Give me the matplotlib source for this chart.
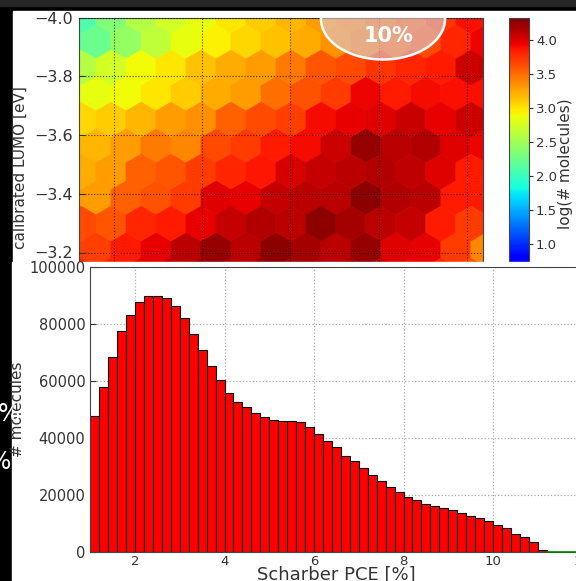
import numpy as np
import matplotlib
matplotlib.use("Agg")
import matplotlib.pyplot as plt
from matplotlib.patches import Rectangle, Ellipse

W, H = 576, 581

# bottom histogram: Scharber PCE in 0.2 % bins from 1 %
pce_bin_start = 1.0
pce_bin_width = 0.2
pce_counts = [47600, 57800, 68300, 77400, 83100, 87800, 89900, 89700, 89200, 86200,
              82000, 76400, 70800, 65200, 60200, 55800, 52500, 50800, 48800, 47400,
              46200, 45800, 45900, 45500, 43700, 41400, 38800, 36700, 33800, 31800,
              29500, 27000, 25000, 22800, 21200, 19200, 18100, 17000, 16000, 15400,
              14800, 13700, 12700, 11900, 10800, 9600, 8400, 6400, 5300, 3400, 800]
hist_xticks = [2, 4, 6, 8, 10, 12]
hist_yticks = [0, 20000, 40000, 60000, 80000, 100000]

# top hexbin: log(# molecules) per cell, rows top to bottom
# lattice A rows (j = 1..5), 15 cells each
lattice_a_rows = [
    [2.05, 2.25, 2.45, 2.65, 2.85, 2.95, 3.05, 3.15, 3.25, 3.35, 3.45, 3.55, 3.65, 3.80, 3.95],
    [2.85, 2.85, 2.90, 3.00, 3.10, 3.25, 3.30, 3.50, 3.62, 3.72, 3.95, 3.85, 3.92, 3.90, 3.90],
    [3.20, 3.20, 3.30, 3.45, 3.40, 3.65, 3.72, 3.85, 3.92, 4.05, 4.25, 4.12, 4.15, 4.00, 3.95],
    [3.30, 3.30, 3.55, 3.62, 3.72, 4.00, 3.97, 4.08, 4.12, 4.12, 4.28, 4.15, 4.12, 3.85, 3.85],
    [3.70, 3.70, 3.85, 3.97, 4.12, 4.25, 4.12, 4.28, 4.20, 4.12, 4.25, 4.00, 3.97, 3.72, 3.40],
]
# lattice B rows (j = 0..5), 14 cells each
lattice_b_rows = [
    [2.10, 2.35, 2.60, 2.75, 2.85, 3.00, 3.10, 3.20, 3.30, 3.40, 3.50, 3.60, 3.75, 3.90],
    [2.60, 2.75, 2.90, 3.00, 3.15, 3.25, 3.30, 3.45, 3.60, 3.65, 3.75, 3.80, 3.85, 4.05],
    [3.05, 3.10, 3.20, 3.30, 3.35, 3.55, 3.65, 3.70, 3.92, 3.97, 4.00, 4.07, 3.97, 4.05],
    [3.25, 3.30, 3.55, 3.60, 3.72, 3.80, 3.87, 4.03, 4.08, 4.12, 4.15, 4.10, 4.00, 3.85],
    [3.65, 3.60, 3.80, 3.85, 3.97, 4.08, 4.15, 4.12, 4.27, 4.20, 4.12, 4.08, 3.85, 3.72],
    [3.80, 3.85, 4.00, 4.10, 4.20, 4.15, 4.25, 4.20, 4.15, 4.20, 4.10, 3.95, 3.80, 3.60],
]
lumo_ticks = [-4.0, -3.8, -3.6, -3.4, -3.2]
cbar_ticks = [1.0, 1.5, 2.0, 2.5, 3.0, 3.5, 4.0]

hex_extent = (0.92, 10.43, -4.095, -3.033)
hex_grid = (14, 6)


def box(l, t, r, b):
    return [l / W, 1 - b / H, (r - l) / W, (b - t) / H]


fig = plt.figure(figsize=(W / 100, H / 100), dpi=100, facecolor="black")
fig.patches.append(Rectangle((0, 1 - 6 / H), 1, 6 / H, transform=fig.transFigure,
                             color="#262626", zorder=-5))
fig.patches.append(Rectangle((13 / W, 1 - 262 / H), (W - 13) / W, 251 / H,
                             transform=fig.transFigure, color="white", zorder=-5))

# ---- top hexbin panel (cropped) ----
ax1 = fig.add_axes(box(78.7, 17.5, 483, 311.25))
x0, x1, y0, y1 = hex_extent
nx, ny = hex_grid
sx = (x1 - x0) / nx
sy = (y1 - y0) / ny
xs, ys, cs = [], [], []
for j, row in zip(range(1, 6), lattice_a_rows):
    for i, v in enumerate(row):
        xs.append(x0 + i * sx)
        ys.append(y0 + j * sy)
        cs.append(v)
for j, row in enumerate(lattice_b_rows):
    for i, v in enumerate(row):
        xs.append(x0 + (i + 0.5) * sx)
        ys.append(y0 + (j + 0.5) * sy)
        cs.append(v)

hb = ax1.hexbin(xs, ys, C=cs, gridsize=hex_grid, extent=hex_extent,
                reduce_C_function=np.mean, cmap="jet", vmin=0.33, vmax=4.33,
                linewidths=0.5, edgecolors="face")
ax1.set_xlim(1.2073, 10.3647)
ax1.set_ylim(-3.0, -4.0)
ax1.set_xticks([2, 4, 6, 8, 10])
ax1.set_xticklabels([])
ax1.set_yticks(lumo_ticks)
ax1.set_yticklabels([f"{v:.1f}".replace("-", "\u2212") for v in lumo_ticks])
ax1.tick_params(axis="y", labelsize=11.5, colors="#333333", pad=4.3, direction="in", length=4)
ax1.tick_params(axis="x", direction="in", length=0)
ax1.grid(True, color="black", linestyle=":", linewidth=0.8, alpha=0.7)
ax1.set_axisbelow(False)
for s in ax1.spines.values():
    s.set_color("#444444")
    s.set_linewidth(0.8)
ax1.set_ylabel("calibrated LUMO [eV]", fontsize=11, color="#333333")
ax1.yaxis.set_label_coords(-0.127, 0.489)

ax1.add_patch(Ellipse((8.10, -3.995), 2.81, 0.276, facecolor="#dcc8cc", alpha=0.65,
                      edgecolor="none", zorder=5))
ax1.add_patch(Ellipse((8.10, -3.995), 2.81, 0.276, facecolor="none",
                      edgecolor="white", linewidth=1.8, zorder=6))
ax1.text(8.235, -3.937, "10%", color="white", fontsize=15, fontweight="bold",
         ha="center", va="center", zorder=7)

cax = fig.add_axes(box(509, 18, 529, 290))
cb = fig.colorbar(hb, cax=cax, ticks=cbar_ticks)
cb.ax.set_yticklabels([f"{v:.1f}" for v in cbar_ticks])
cb.ax.tick_params(labelsize=9.5, colors="#333333", pad=2, length=3)
cb.outline.set_edgecolor("#444444")
cb.outline.set_linewidth(0.8)
cb.set_label("log(# molecules)", fontsize=11, color="#333333")
cb.ax.yaxis.set_label_coords(2.45, 0.465)

# ---- bottom histogram panel ----
fig.patches.append(Rectangle((12 / W, 0), (W - 12) / W, 319 / H,
                             transform=fig.transFigure, color="white", zorder=2))
ax2 = fig.add_axes(box(90.25, 267, 582.5, 552))
ax2.set_zorder(3)
edges = [pce_bin_start + k * pce_bin_width for k in range(len(pce_counts))]
ax2.bar(edges, pce_counts, width=pce_bin_width, align="edge", color="red",
        edgecolor="black", linewidth=0.8)
ax2.plot([edges[-1] + pce_bin_width, 12], [0, 0], color="green", linewidth=1.2,
         clip_on=False, zorder=5)
ax2.set_xlim(1, 12)
ax2.set_ylim(0, 100000)
ax2.set_xticks(hist_xticks)
ax2.set_yticks(hist_yticks)
ax2.set_yticklabels([str(v) for v in hist_yticks])
ax2.tick_params(axis="x", labelsize=9.5, colors="#333333", pad=2, direction="in", length=4)
ax2.tick_params(axis="y", labelsize=10.5, colors="#333333", pad=3.5, direction="in", length=4)
ax2.grid(True, color="#aaaaaa", linestyle=":", linewidth=0.9)
ax2.set_axisbelow(True)
for s in ax2.spines.values():
    s.set_color("#444444")
    s.set_linewidth(0.8)
ax2.set_xlabel("Scharber PCE [%]", fontsize=13, color="#333333")
ax2.xaxis.set_label_coords(0.5, -0.048)
ax2.set_ylabel("# molecules", fontsize=11, color="#333333")
ax2.yaxis.set_label_coords(-0.1326, 0.5)

# stray glyphs from the neighbouring slide on the left edge
fig.text(20 / W, 1 - 414 / H, "%", color="white", fontsize=17, ha="right",
         va="center", zorder=10)
fig.text(11 / W, 1 - 462 / H, "%", color="white", fontsize=17, ha="right",
         va="center", zorder=10)

fig.savefig("out.png", dpi=100, facecolor=fig.get_facecolor())
